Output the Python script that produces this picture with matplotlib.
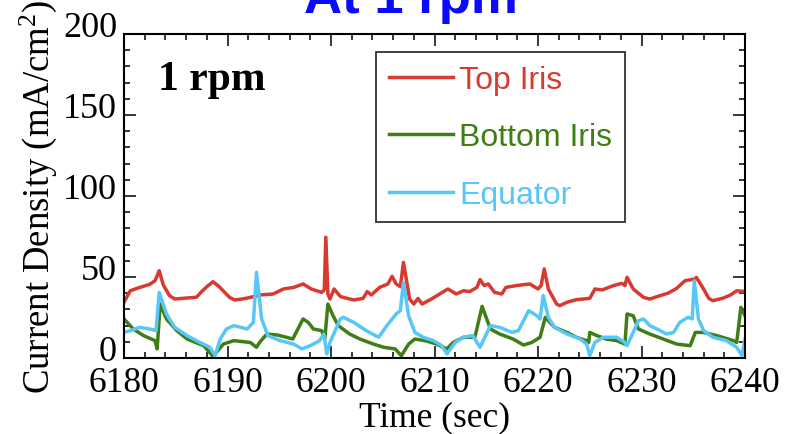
import matplotlib
matplotlib.use("Agg")
import matplotlib.pyplot as plt
from matplotlib.ticker import MultipleLocator
import matplotlib.transforms as mtransforms

# ---------------- data ----------------
top_t = [6180.0, 6180.6, 6181.5, 6182.5, 6183.0, 6183.4, 6183.8, 6184.4, 6184.9, 6186.0,
         6187.0, 6187.5, 6188.0, 6188.6, 6189.2, 6190.2, 6190.7, 6191.5, 6192.2, 6193.1,
         6194.4, 6195.4, 6196.4, 6197.3, 6198.1, 6199.1, 6199.35, 6199.5, 6199.7, 6199.9,
         6200.3, 6200.9, 6201.2, 6202.2, 6203.1, 6203.5, 6203.9, 6204.7, 6205.5, 6205.9,
         6206.3, 6206.7, 6207.0, 6207.6, 6208.0, 6208.4, 6208.8, 6209.7, 6210.5, 6211.3,
         6212.1, 6212.8, 6213.4, 6214.1, 6214.4, 6214.8, 6215.2, 6215.8, 6216.5, 6216.9,
         6217.9, 6219.2, 6220.0, 6220.3, 6220.6, 6221.0, 6221.8, 6222.1, 6222.8, 6223.7,
         6225.0, 6225.5, 6226.2, 6227.3, 6228.1, 6228.4, 6228.6, 6229.2, 6230.2, 6230.8,
         6231.6, 6232.6, 6233.4, 6234.2, 6235.2, 6235.3, 6236.0, 6236.5, 6236.9, 6237.9,
         6238.6, 6239.2, 6240.0]
top_v = [34.4, 41.5, 43.5, 45.5, 47.7, 53.9, 45.0, 38.5, 36.4, 37.0,
         37.5, 41.0, 44.0, 47.1, 44.0, 37.4, 35.8, 36.5, 37.4, 38.9,
         39.5, 42.6, 43.6, 45.7, 42.6, 40.5, 42.0, 74.5, 39.5, 36.4,
         42.6, 38.0, 37.4, 35.8, 36.8, 41.0, 38.9, 43.6, 45.7, 50.4,
         45.7, 44.0, 59.0, 36.4, 33.3, 36.8, 33.3, 36.4, 39.5, 42.6,
         39.5, 41.5, 41.0, 43.6, 48.4, 44.7, 45.7, 40.5, 39.5, 43.6,
         44.7, 45.7, 42.6, 44.7, 55.0, 42.6, 33.3, 32.3, 34.4, 36.0,
         36.8, 42.6, 42.0, 44.7, 46.1, 44.7, 49.8, 42.6, 37.4, 36.4,
         38.1, 40.1, 43.0, 47.7, 48.8, 49.8, 42.6, 36.8, 35.4, 37.0,
         38.9, 41.5, 41.0]

bot_t = [6180.0, 6180.9, 6181.9, 6183.0, 6183.2, 6183.5, 6184.1, 6185.1, 6186.1, 6187.7,
         6188.6, 6189.6, 6190.6, 6192.2, 6192.8, 6193.1, 6193.8, 6194.8, 6195.7, 6196.3,
         6196.8, 6197.3, 6197.8, 6198.3, 6199.1, 6199.4, 6199.7, 6200.2, 6200.7, 6201.8,
         6202.8, 6204.1, 6205.1, 6206.2, 6206.8, 6207.5, 6208.1, 6209.1, 6210.2, 6211.2,
         6211.8, 6212.8, 6213.9, 6214.6, 6215.4, 6216.3, 6217.6, 6218.6, 6219.4, 6220.2,
         6220.7, 6221.6, 6222.8, 6223.7, 6224.7, 6224.9, 6225.0, 6225.7, 6226.6, 6227.6,
         6228.4, 6228.6, 6229.2, 6229.7, 6230.8, 6232.1, 6233.4, 6234.7, 6235.2, 6236.0,
         6237.3, 6238.9, 6239.2, 6239.6, 6240.0]
bot_v = [24.1, 17.9, 13.8, 10.7, 5.6, 33.3, 24.1, 16.9, 11.7, 7.6,
         1.0, 8.6, 10.7, 9.6, 6.6, 9.6, 14.8, 14.2, 12.8, 11.7,
         17.9, 24.1, 22.0, 17.9, 16.9, 11.7, 33.3, 26.1, 20.0, 14.8,
         11.7, 8.6, 6.6, 5.6, 1.4, 8.6, 11.7, 10.7, 8.6, 5.6,
         9.6, 12.8, 12.8, 31.9, 17.9, 14.8, 11.7, 8.0, 9.6, 12.8,
         25.1, 18.9, 15.8, 12.8, 10.7, 9.6, 15.8, 13.8, 11.7, 10.7,
         8.6, 27.2, 26.1, 17.9, 14.8, 11.7, 8.6, 7.6, 15.8, 15.8,
         13.8, 10.7, 9.6, 31.3, 26.1]

eq_t = [6180.0, 6180.6, 6181.5, 6182.5, 6183.1, 6183.4, 6184.1, 6184.9, 6186.1, 6187.3,
        6188.3, 6188.8, 6189.3, 6189.9, 6190.6, 6191.9, 6192.5, 6192.8, 6193.3, 6193.9,
        6195.1, 6196.4, 6197.2, 6198.0, 6198.9, 6199.3, 6199.6, 6199.9, 6200.9, 6201.2,
        6202.2, 6203.4, 6204.6, 6205.4, 6206.3, 6206.7, 6207.0, 6207.5, 6208.1, 6208.9,
        6209.9, 6210.7, 6211.2, 6212.0, 6212.8, 6213.7, 6214.4, 6215.4, 6216.3, 6217.5,
        6218.1, 6219.1, 6219.9, 6220.2, 6220.5, 6221.0, 6221.6, 6222.8, 6224.1, 6224.7,
        6225.0, 6225.5, 6226.3, 6227.6, 6228.4, 6228.6, 6229.2, 6229.7, 6230.2, 6230.8,
        6231.8, 6232.4, 6233.1, 6233.7, 6234.5, 6234.9, 6235.1, 6235.5, 6236.0, 6236.9,
        6238.2, 6239.2, 6239.7, 6240.0]
eq_v = [15.8, 16.9, 18.9, 17.9, 16.9, 40.5, 27.2, 18.9, 13.8, 9.7,
        6.6, 1.4, 11.7, 17.9, 20.0, 17.9, 22.0, 52.9, 24.1, 13.8,
        10.7, 8.6, 5.6, 7.6, 10.7, 14.8, 2.5, 9.6, 24.1, 25.1,
        22.0, 16.9, 12.8, 20.0, 27.2, 29.2, 46.7, 26.1, 15.8, 12.8,
        10.7, 7.6, 2.5, 9.6, 12.8, 13.8, 6.6, 20.0, 18.9, 15.8,
        16.9, 29.2, 26.1, 24.1, 38.5, 25.1, 18.9, 14.8, 11.7, 8.6,
        1.4, 9.6, 12.8, 12.8, 9.6, 7.6, 15.8, 23.0, 24.1, 20.0,
        16.9, 14.8, 15.8, 22.0, 25.1, 24.1, 47.7, 24.1, 16.9, 12.8,
        10.7, 6.6, 1.4, 11.7]

series_labels = ["Top Iris", "Bottom Iris", "Equator"]
x_ticks = [6180, 6190, 6200, 6210, 6220, 6230, 6240]
y_ticks = [0, 50, 100, 150, 200]

# ---------------- style ----------------
c_red = "#d63a30"
c_green = "#3f7e14"
c_blue = "#56c7f7"
serif = "Liberation Serif"
sans = "Liberation Sans"
plt.rcParams["mathtext.fontset"] = "custom"
plt.rcParams["mathtext.rm"] = serif
plt.rcParams["mathtext.it"] = serif + ":italic"

fig = plt.figure(figsize=(7.88, 4.35), dpi=100)
ax = fig.add_axes([124 / 788, 1 - 359 / 435, 621 / 788, 324 / 435])

lw = 2.5
l1, = ax.plot(top_t, top_v, color=c_red, lw=lw, label=series_labels[0])
l2, = ax.plot(bot_t, bot_v, color=c_green, lw=lw, label=series_labels[1])
l3, = ax.plot(eq_t, eq_v, color=c_blue, lw=lw, label=series_labels[2])

ax.set_xlim(6180, 6240)
ax.set_ylim(0, 200)
ax.set_xticks(x_ticks)
ax.set_yticks(y_ticks)
ax.xaxis.set_minor_locator(MultipleLocator(2))
ax.yaxis.set_minor_locator(MultipleLocator(10))
ax.tick_params(which="both", direction="in", top=True, right=True, width=1.1, color="black")
ax.tick_params(which="major", length=8.5)
ax.tick_params(which="minor", length=4.5)
ax.tick_params(axis="x", labelsize=25.5, pad=6)
ax.tick_params(axis="y", labelsize=26, pad=5)
for lab in ax.get_xticklabels() + ax.get_yticklabels():
    lab.set_fontfamily(serif)
offset = mtransforms.ScaledTranslation(0, 10 / 100, fig.dpi_scale_trans)
for lab in ax.get_yticklabels():
    lab.set_transform(lab.get_transform() + offset)
for sp in ax.spines.values():
    sp.set_linewidth(1.5)

ax.set_xlabel("Time (sec)", fontsize=25.5, fontfamily=serif, labelpad=1)
ax.set_ylabel("Current Density (mA/cm$^2$)", fontsize=26.5, fontfamily=serif, labelpad=3)

ax.text(0.055, 0.83, "1 rpm", transform=ax.transAxes, fontsize=30, fontweight="bold",
        fontfamily=serif, va="baseline", ha="left")

leg = ax.legend(handles=[l1, l2, l3], loc="upper left",
                bbox_to_anchor=((376 - 124) / 621, (359 - 53) / 324),
                prop={"family": sans, "size": 23}, frameon=True, fancybox=False,
                edgecolor="black", handlelength=2.0, handletextpad=0.2,
                labelspacing=0.86, borderpad=0.4, borderaxespad=0)
leg.get_frame().set_linewidth(1.3)
for txt, col in zip(leg.get_texts(), [c_red, c_green, c_blue]):
    txt.set_color(col)

fig.text(411 / 788, 1 - 13 / 435, "At 1 rpm", color="#0a0aff", fontsize=38,
         fontweight="bold", fontfamily=sans, ha="center", va="baseline")

fig.savefig("out.png", dpi=100)
